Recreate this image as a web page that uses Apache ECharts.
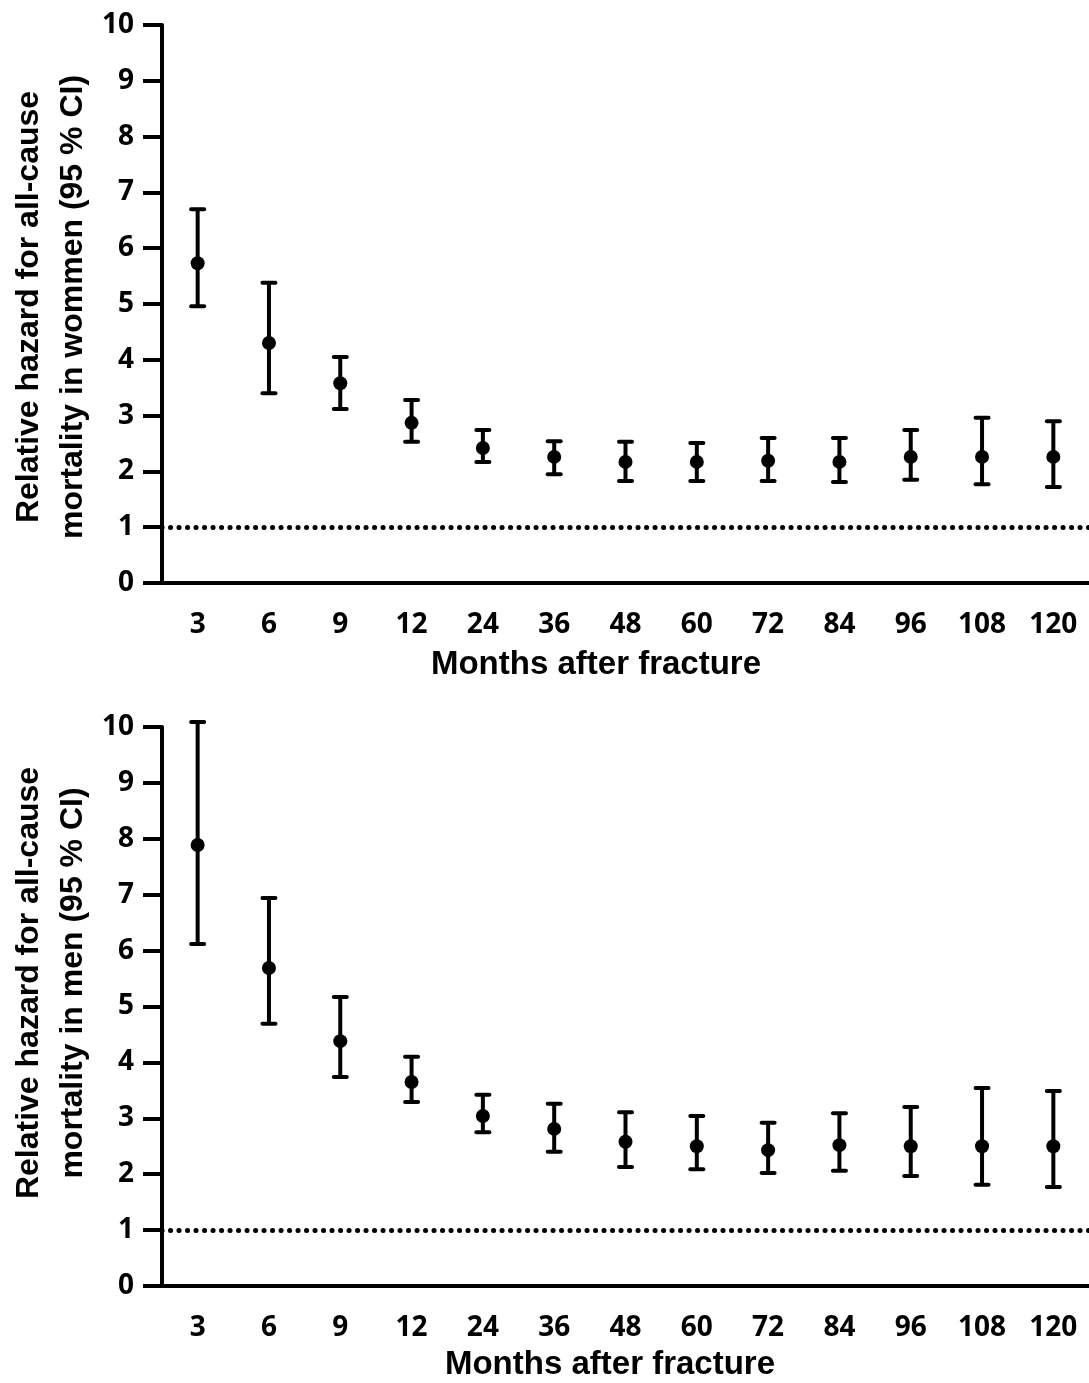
<!DOCTYPE html>
<html>
<head>
<meta charset="utf-8">
<script src="https://cdn.jsdelivr.net/npm/echarts@6/dist/echarts.min.js"></script>
<style>html,body{margin:0;padding:0;background:#fff;}#c{width:1089px;height:1383px;}</style>
</head>
<body>
<div id="c"></div>
<script>
const months = ['3','6','9','12','24','36','48','60','72','84','96','108','120'];
const yTicks = [0,1,2,3,4,5,6,7,8,9,10];
const womenHR   = [5.73,4.30,3.58,2.87,2.42,2.26,2.17,2.17,2.19,2.17,2.26,2.26,2.26];
const womenLow  = [4.96,3.40,3.12,2.53,2.17,1.95,1.83,1.83,1.83,1.81,1.85,1.77,1.72];
const womenHigh = [6.70,5.38,4.05,3.28,2.74,2.54,2.53,2.51,2.60,2.60,2.74,2.96,2.90];
const menHR   = [7.89,5.69,4.38,3.65,3.04,2.81,2.58,2.50,2.43,2.52,2.50,2.50,2.50];
const menLow  = [6.12,4.69,3.74,3.29,2.75,2.40,2.13,2.09,2.02,2.06,1.97,1.81,1.77];
const menHigh = [10.09,6.94,5.17,4.10,3.42,3.26,3.11,3.04,2.92,3.09,3.20,3.54,3.49];
const refValue = 1;

const chart = echarts.init(document.getElementById('c'));
const tickFont = {fontFamily:'Open Sans', fontWeight:'bold', fontSize:28, color:'#000'};
const ttl = {fontFamily:'Liberation Sans', fontWeight:'bold', fontSize:32, fill:'#000', align:'center', verticalAlign:'middle'};
const xttl = Object.assign({}, ttl, {fontSize:33});

function xAxisCfg(gi){
  return {
    type:'category', gridIndex:gi, data:months, boundaryGap:true,
    axisLine:{lineStyle:{color:'#000', width:4}},
    axisTick:{alignWithLabel:true, length:19, lineStyle:{color:'#000', width:4}},
    axisLabel:Object.assign({margin:28}, tickFont),
    splitLine:{show:false}
  };
}
function yAxisCfg(gi){
  return {
    type:'value', gridIndex:gi, min:0, max:10, interval:1,
    axisLine:{show:true, lineStyle:{color:'#000', width:4}},
    axisTick:{show:true, length:19, lineStyle:{color:'#000', width:4}},
    axisLabel:Object.assign({margin:28, formatter:v=>yTicks.includes(v)?String(v):''}, tickFont),
    splitLine:{show:false}
  };
}
function errData(hr, lo, hi){
  return months.map((m,i)=>[i, lo[i], hi[i], hr[i]]);
}
function renderErr(params, api){
  const x = api.value(0);
  const lo = api.coord([x, api.value(1)]);
  const hi = api.coord([x, api.value(2)]);
  const pt = api.coord([x, api.value(3)]);
  const cw = 6.5;
  const st = {stroke:'#000', lineWidth:4};
  return {type:'group', children:[
    {type:'line', shape:{x1:lo[0], y1:lo[1], x2:hi[0], y2:hi[1]}, style:st},
    {type:'line', shape:{x1:hi[0]-cw, y1:hi[1], x2:hi[0]+cw, y2:hi[1]}, style:Object.assign({lineCap:'round'},st)},
    {type:'line', shape:{x1:lo[0]-cw, y1:lo[1], x2:lo[0]+cw, y2:lo[1]}, style:Object.assign({lineCap:'round'},st)},
    {type:'circle', shape:{cx:pt[0], cy:pt[1], r:7}, style:{fill:'#000'}}
  ]};
}
function refLine(gi){
  return {
    type:'line', xAxisIndex:gi, yAxisIndex:gi, data:[], silent:true,
    markLine:{silent:true, symbol:['none','none'], label:{show:false},
      lineStyle:{color:'#000', width:5, type:[0.1,8.4], cap:'round'},
      data:[{yAxis:refValue}]}
  };
}
function txt(x, y, text, style, rot){
  return {type:'text', x:x, y:y, rotation:rot||0, style:Object.assign({text:text}, style)};
}
chart.setOption({
  animation:false,
  backgroundColor:'#fff',
  grid:[
    {left:162, right:-7, top:25, height:558},
    {left:162, right:-7, top:727, height:559}
  ],
  xAxis:[xAxisCfg(0), xAxisCfg(1)],
  yAxis:[yAxisCfg(0), yAxisCfg(1)],
  graphic:[
    txt(29, 307, 'Relative hazard for all-cause', ttl, Math.PI/2),
    txt(73, 307, 'mortality in wommen (95 % CI)', ttl, Math.PI/2),
    txt(29, 983, 'Relative hazard for all-cause', ttl, Math.PI/2),
    txt(73, 983, 'mortality in men (95 % CI)', ttl, Math.PI/2),
    txt(596, 665, 'Months after fracture', xttl),
    txt(610, 1365, 'Months after fracture', xttl)
  ],
  series:[
    refLine(0), refLine(1),
    {type:'custom', xAxisIndex:0, yAxisIndex:0, data:errData(womenHR, womenLow, womenHigh), renderItem:renderErr, encode:{x:0, y:[1,2,3]}},
    {type:'custom', xAxisIndex:1, yAxisIndex:1, data:errData(menHR, menLow, menHigh), renderItem:renderErr, encode:{x:0, y:[1,2,3]}}
  ]
});
</script>
</body>
</html>
